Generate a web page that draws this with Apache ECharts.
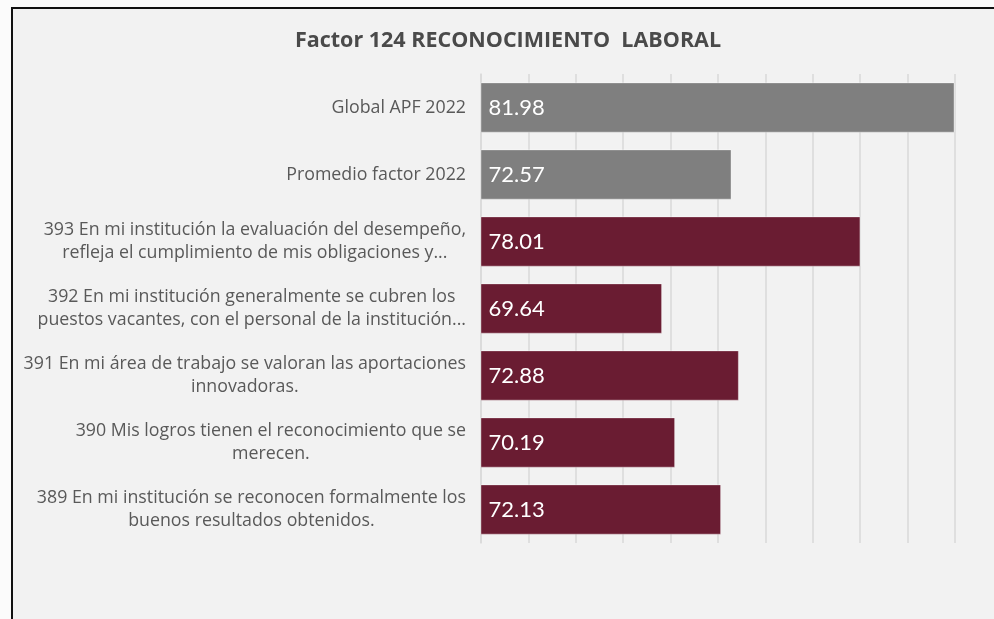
<!DOCTYPE html>
<html>
<head>
<meta charset="utf-8">
<script src="https://cdn.jsdelivr.net/npm/echarts@6/dist/echarts.min.js"></script>
<style>
  html, body { margin: 0; padding: 0; background: #fbfbfb; }
  #frame {
    position: absolute; left: 11px; top: 7px; width: 1000px; height: 640px;
    border: 2px solid #111; background: #f2f2f2; box-sizing: border-box;
  }
  #chart { position: absolute; left: 0; top: 0; width: 994px; height: 619px; }
</style>
</head>
<body>
<div id="frame"></div>
<div id="chart"></div>
<script>
// categories, top to bottom
const categories = [
  'Global APF 2022',
  'Promedio factor 2022',
  '393 En mi institución la evaluación del desempeño,\nrefleja el cumplimiento de mis obligaciones y...',
  '392 En mi institución generalmente se cubren los\npuestos vacantes, con el personal de la institución...',
  '391 En mi área de trabajo se valoran las aportaciones\ninnovadoras.',
  '390 Mis logros tienen el reconocimiento que se\nmerecen.',
  '389 En mi institución se reconocen formalmente los\nbuenos resultados obtenidos.'
]
const values = [81.98, 72.57, 78.01, 69.64, 72.88, 70.19, 72.13]
const barColors = ['#7f7f7f', '#7f7f7f', '#6a1c32', '#6a1c32', '#6a1c32', '#6a1c32', '#6a1c32']

const chart = echarts.init(document.getElementById('chart'))
chart.setOption({
  backgroundColor: 'transparent',
  title: {
    text: 'Factor 124 RECONOCIMIENTO  LABORAL',
    left: 503, top: 25, textAlign: 'center',
    textStyle: { fontFamily: 'Open Sans', fontSize: 21.5, fontWeight: 'bold', color: '#4a4a4a' }
  },
  grid: { left: 481, right: 39, top: 74, bottom: 76 },
  xAxis: {
    type: 'value', min: 62, max: 82, interval: 2,
    axisLabel: { show: false },
    axisLine: { show: false },
    axisTick: { show: false },
    splitLine: { show: true, lineStyle: { color: '#d9d9d9', width: 1.5 } }
  },
  yAxis: {
    type: 'category', data: categories, inverse: true,
    axisLine: { show: true, lineStyle: { color: '#d9d9d9', width: 1.5 } },
    axisTick: { show: false },
    axisLabel: {
      margin: 15,
      formatter: v => v.split('\n').map(l => '{c|' + l + '}').join('\n'),
      rich: { c: { align: 'center', fontFamily: 'Open Sans', fontSize: 17.8, color: '#595959', lineHeight: 23 } }
    }
  },
  series: [{
    type: 'bar',
    data: values.map((v, i) => ({ value: v, itemStyle: { color: barColors[i] } })),
    barCategoryGap: '25%',
    itemStyle: { borderColor: 'rgba(255,255,255,0.35)', borderWidth: 1 },
    label: {
      show: true, position: 'insideLeft', distance: 8,
      formatter: p => p.value.toFixed(2),
      fontFamily: 'Lato', fontSize: 22, color: '#ffffff'
    }
  }]
})
</script>
</body>
</html>
